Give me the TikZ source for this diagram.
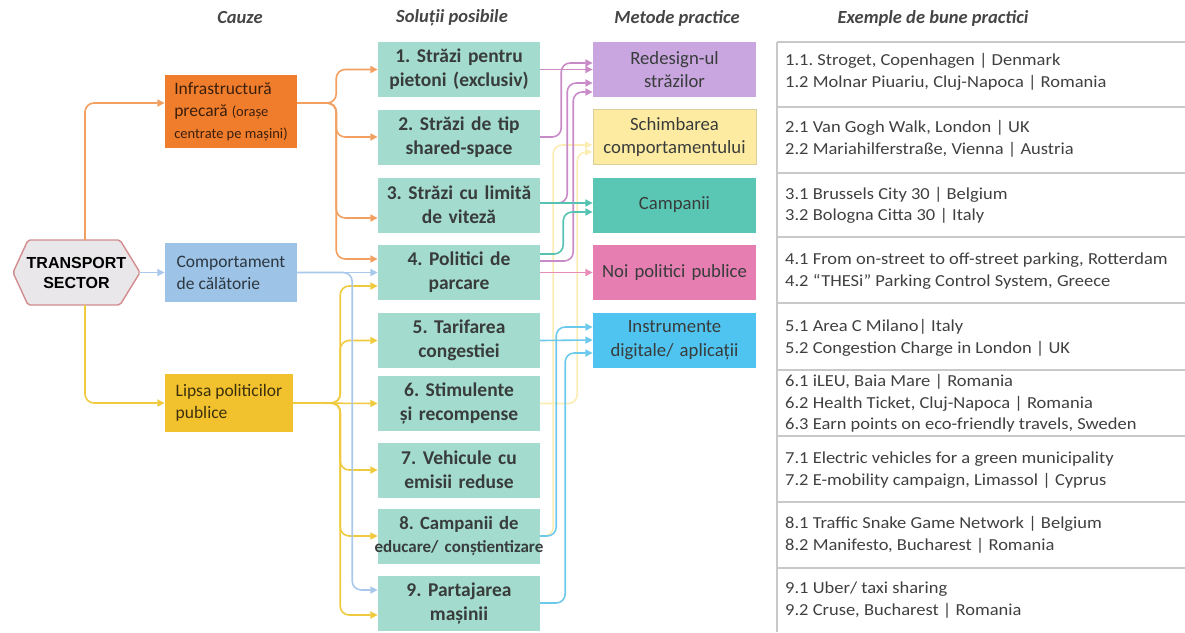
\documentclass[tikz,border=0pt]{standalone}
\usepackage{fontspec}
\setmainfont{Carlito}
\newfontfamily\exfont{Carlito}[FakeStretch=1.1]
\newfontfamily\arialfont{Liberation Sans}
\usetikzlibrary{arrows.meta}

\definecolor{solfill}{HTML}{A3DBCE}
\definecolor{soltext}{HTML}{383C3B}
\definecolor{infrafill}{HTML}{F07D2C}
\definecolor{compfill}{HTML}{9DC3E6}
\definecolor{lipsafill}{HTML}{F2C12E}
\definecolor{redfill}{HTML}{C9A6DF}
\definecolor{schfill}{HTML}{FEEBA2}
\definecolor{schborder}{HTML}{D9CF9A}
\definecolor{campfill}{HTML}{5AC6B4}
\definecolor{noifill}{HTML}{E67EB2}
\definecolor{instrfill}{HTML}{4FC4F1}
\definecolor{hexfill}{HTML}{E9E7E9}
\definecolor{hexborder}{HTML}{D38C8E}
\definecolor{headgray}{HTML}{454545}
\definecolor{exgray}{HTML}{404040}
\definecolor{gridgray}{HTML}{C9C9C9}
\definecolor{orangeline}{HTML}{F2A061}
\definecolor{blueline}{HTML}{A9C9EC}
\definecolor{yellowline}{HTML}{F0CA3E}
\definecolor{purpleline}{HTML}{C98BC8}
\definecolor{paleyellow}{HTML}{FBEDB4}
\definecolor{tealline}{HTML}{55C2B2}
\definecolor{pinkline}{HTML}{E88CB9}
\definecolor{skyline}{HTML}{6DC9EC}

\begin{document}
\frenchspacing
\begin{tikzpicture}[x=1pt,y=-1pt,
  conn/.style={line width=1.6pt, rounded corners=9pt,
    -{Triangle[length=7.5pt,width=7pt]}},
  oline/.style={conn, draw=orangeline},
  bline/.style={conn, draw=blueline},
  yline/.style={conn, draw=yellowline},
  pline/.style={conn, draw=purpleline},
  pyline/.style={conn, draw=paleyellow},
  tline/.style={conn, draw=tealline},
  kline/.style={conn, draw=pinkline},
  sline/.style={conn, draw=skyline},
  solbox/.style={rectangle, fill=solfill, text=soltext, inner xsep=0pt, inner ysep=0pt,
    text width=162pt, minimum height=55pt, align=center,
    font=\bfseries\fontsize{19.5}{24}\selectfont},
  methbox/.style={rectangle, inner xsep=0pt, inner ysep=0pt, text=soltext,
    text width=163pt, minimum height=55pt, align=center,
    font=\fontsize{18.7}{23.5}\selectfont},
  causebox/.style={rectangle, inner xsep=0pt, inner ysep=0pt, minimum width=132pt,
    align=left, font=\fontsize{17.5}{22}\selectfont},
  head/.style={text=headgray, font=\bfseries\itshape\fontsize{18.5}{20}\selectfont},
  extext/.style={anchor=west, inner sep=0pt, align=left, text=exgray,
    font=\exfont\fontsize{16.8}{21.5}\selectfont},
  gridline/.style={draw=gridgray, line width=1.4pt}
]
\useasboundingbox (0,0) rectangle (1185,632);

% column headings
\node[head] (h1) at (240,18) {Cauze};
\node[head] (h2) at (452,18) {Soluții posibile};
\node[head] (h3) at (677,18) {Metode practice};
\node[head] (h4) at (933,18) {Exemple de bune practici};

% transport sector hexagon
\filldraw[fill=hexfill, draw=hexborder, line width=1.4pt, rounded corners=2pt]
  (13,272.5) -- (28,240) -- (120,240) -- (140,272.5) -- (120,305) -- (28,305) -- cycle;
\node[font=\arialfont\bfseries\fontsize{16}{20.5}\selectfont, align=center, inner sep=0pt]
  (ts) at (76.5,273) {TRANSPORT\\SECTOR};
\coordinate (hexN) at (85,240);
\coordinate (hexE) at (140,272.5);
\coordinate (hexS) at (85,305);

% causes
\node[causebox, fill=infrafill, text=black!75!infrafill, minimum height=73pt] (infra) at (231,111.5)
  {Infrastructură\\precară {\fontsize{14.5}{22}\selectfont(orașe}\\{\fontsize{14.5}{22}\selectfont centrate pe mașini)}};
\node[causebox, fill=compfill, text=black!72!compfill, minimum height=59pt] (comp) at (231,272.5)
  {Comportament\\de călătorie};
\node[causebox, fill=lipsafill, text=black!75!lipsafill, minimum width=128pt, minimum height=58pt] (lipsa) at (229,403)
  {Lipsa politicilor\\publice};

% possible solutions
\node[solbox] (sol1) at (459,69.5) {1. Străzi pentru\\pietoni (exclusiv)};
\node[solbox] (sol2) at (459,137) {2. Străzi de tip\\shared-space};
\node[solbox] (sol3) at (459,205) {3. Străzi cu limită\\de viteză};
\node[solbox] (sol4) at (459,272.5) {4. Politici de\\parcare};
\node[solbox] (sol5) at (459,340.5) {5. Tarifarea\\congestiei};
\node[solbox] (sol6) at (459,403.5) {6. Stimulente\\și recompense};
\node[solbox] (sol7) at (459,470) {7. Vehicule cu\\emisii reduse};
\node[solbox, font=\bfseries\fontsize{18.7}{23}\selectfont] (sol8) at (459,536)
  {8. Campanii de\\\makebox[162pt]{\fontsize{17}{23}\selectfont educare/ conștientizare}};
\node[solbox] (sol9) at (459,603) {9. Partajarea\\mașinii};

% practical methods
\node[methbox, fill=redfill] (m1) at (674.5,69.5) {Redesign-ul\\străzilor};
\node[methbox, fill=schfill, draw=schborder, line width=1pt] (m2) at (674.5,137) {Schimbarea\\comportamentului};
\node[methbox, fill=campfill] (m3) at (674.5,205) {Campanii};
\node[methbox, fill=noifill] (m4) at (674.5,272.5) {Noi politici publice};
\node[methbox, fill=instrfill] (m5) at (674.5,340) {Instrumente\\digitale/ aplicații};

% links from the transport sector to the causes
\draw[oline] (hexN) |- ([yshift=8.5pt]infra.west);
\draw[bline] (hexE) -- (comp.west);
\draw[yline] (hexS) |- (lipsa.west);

% links from the causes to the solutions
\draw[oline] ([yshift=8.5pt]infra.east) -- ++(39,0) |- (sol1.west);
\draw[oline] ([yshift=8.5pt]infra.east) -- ++(39,0) |- (sol2.west);
\draw[oline] ([yshift=8.5pt]infra.east) -- ++(39,0) |- ([yshift=-13pt]sol3.west);
\draw[oline] ([yshift=8.5pt]infra.east) -- ++(39,0) |- ([yshift=13.5pt]sol4.west);

\draw[yline] (lipsa.east) -- ++(47,0) |- ([yshift=-13.5pt]sol4.west);
\draw[yline] (lipsa.east) -- ++(47,0) |- (sol5.west);
\draw[yline] (lipsa.east) -- (sol6.west);
\draw[yline] (lipsa.east) -- ++(47,0) |- (sol7.west);
\draw[yline] (lipsa.east) -- ++(47,0) |- (sol8.west);
\draw[yline] (lipsa.east) -- ++(47,0) |- ([yshift=-12pt]sol9.west);

\draw[bline] (comp.east) -- (sol4.west);
\draw[bline] (comp.east) -- ++(55,0) |- ([yshift=13pt]sol9.west);

% links from the solutions to the methods
\draw[pyline] (sol6.east) -- ++(37,0) |- ([yshift=-15pt]m2.west);
\draw[pyline] (sol8.east) -- ++(13,0) |- ([yshift=-8pt]m2.west);

\draw[pline] (sol1.east) -- (m1.west);
\draw[pline] (sol2.east) -- ++(21,0) |- ([yshift=6.5pt]m1.west);
\draw[pline] ([yshift=2pt]sol3.east) -- ++(27,0) |- ([yshift=-13.5pt]m1.west);
\draw[pline] ([yshift=11.5pt]sol4.east) -- ++(33,0) |- ([yshift=-22.5pt]m1.west);

\draw[tline] ([yshift=2pt]sol3.east) -- ([yshift=2pt]m3.west);
\draw[tline] ([yshift=18.5pt]sol4.east) -- ++(23,0) |- ([yshift=-7pt]m3.west);

\draw[kline] (sol4.east) -- (m4.west);

\draw[sline] (sol5.east) -- (m5.west);
\draw[sline] (sol8.east) -- ++(16,0) |- ([yshift=13pt]m5.west);
\draw[sline] (sol9.east) -- ++(25,0) |- ([yshift=-13pt]m5.west);

% table of good-practice examples
\draw[gridline] (777,42) -- (777,632);
\foreach \yy in {42,107,173,237,303,370,436,502,568}
  \draw[gridline] (777,\yy) -- (1185,\yy);

\node[extext] (ex1) at (785,72) {1.1. Stroget, Copenhagen | Denmark\\1.2 Molnar Piuariu, Cluj-Napoca | Romania};
\node[extext] (ex2) at (785,139) {2.1 Van Gogh Walk, London | UK\\2.2 Mariahilferstraße, Vienna | Austria};
\node[extext] (ex3) at (785,205.5) {3.1 Brussels City 30 | Belgium\\3.2 Bologna Citta 30 | Italy};
\node[extext] (ex4) at (785,271) {4.1 From on-street to off-street parking, Rotterdam\\4.2 “THESi” Parking Control System, Greece};
\node[extext] (ex5) at (785,338) {5.1 Area C Milano| Italy\\5.2 Congestion Charge in London | UK};
\node[extext] (ex6) at (785,403.5) {6.1 iLEU, Baia Mare | Romania\\6.2 Health Ticket, Cluj-Napoca | Romania\\6.3 Earn points on eco-friendly travels, Sweden};
\node[extext] (ex7) at (785,470) {7.1 Electric vehicles for a green municipality\\7.2 E-mobility campaign, Limassol | Cyprus};
\node[extext] (ex8) at (785,535) {8.1 Traffic Snake Game Network | Belgium\\8.2 Manifesto, Bucharest | Romania};
\node[extext] (ex9) at (785,600) {9.1 Uber/ taxi sharing\\9.2 Cruse, Bucharest | Romania};
\end{tikzpicture}
\end{document}
